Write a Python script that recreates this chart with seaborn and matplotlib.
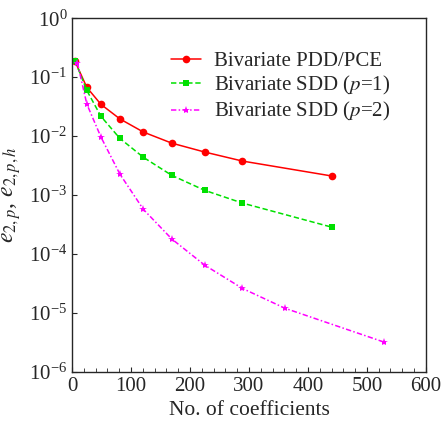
import numpy as np
import pandas as pd
import matplotlib
matplotlib.use("Agg")
import matplotlib.pyplot as plt
import seaborn as sns

# data
n_pdd = [5, 25, 49, 81, 121, 169, 225, 289, 441]
e_pdd = [0.185, 0.067, 0.0345, 0.0196, 0.0117, 0.0076, 0.00536, 0.00377, 0.0021]

n_sdd1 = [5, 25, 49, 81, 121, 169, 225, 289, 441]
e_sdd1 = [0.189, 0.0595, 0.0216, 0.00915, 0.00436, 0.00216, 0.0012, 0.00073, 0.000284]

n_sdd2 = [9, 25, 49, 81, 121, 169, 225, 289, 361, 529]
e_sdd2 = [0.175, 0.0349, 0.0096, 0.00227, 0.00057, 0.00018, 6.45e-5, 2.6e-5, 1.2e-5, 3.2e-6]

labels = ["Bivariate PDD/PCE", r"Bivariate SDD ($p$=1)", r"Bivariate SDD ($p$=2)"]

sns.set_style("ticks")
plt.rcParams["font.family"] = ["Liberation Serif", "DejaVu Serif"]
plt.rcParams["mathtext.fontset"] = "stix"

fig, ax = plt.subplots(figsize=(4.45, 4.24), dpi=100)

series = [
    (n_pdd, e_pdd, "#ff0000", (None, None), "o", 5.5),
    (n_sdd1, e_sdd1, "#00e000", (3.5, 1.8), "s", 4),
    (n_sdd2, e_sdd2, "#ff00ff", (3.5, 1.5, 1, 1.5), "*", 6),
]
for (x, y, c, dash, m, ms), lab in zip(series, labels):
    line = sns.lineplot(x=x, y=y, ax=ax, color=c, marker=m, markersize=ms,
                        markeredgewidth=0, linewidth=1.1, label=lab).lines[-1]
    if dash[0] is not None:
        line.set_dashes(dash)

ax.set_yscale("log")
ax.set_xlim(0, 600)
ax.set_ylim(1e-6, 1)
ax.set_xticks(range(0, 601, 100))
ax.set_xticks(range(0, 601, 20), minor=True)
ax.set_yticks([10.0 ** k for k in range(-6, 1)])
ax.yaxis.set_minor_locator(matplotlib.ticker.NullLocator())
ax.tick_params(which="both", direction="in", labelsize=15)
ax.tick_params(which="minor", length=3)
ax.set_xlabel("No. of coefficients", fontsize=15.5)
ax.set_ylabel(r"$e_{2,p}$, $e_{2,p,h}$", fontsize=17)
ax.legend(loc="upper left", frameon=False, fontsize=15, handlelength=1.45,
          labelspacing=0.15, handletextpad=0.6, borderaxespad=0.0,
          borderpad=0.0, bbox_to_anchor=(0.28, 0.906))
for s in ax.spines.values():
    s.set_linewidth(1.0)

fig.subplots_adjust(left=0.162, right=0.957, top=0.957, bottom=0.123)
fig.savefig("out.png", dpi=100)
